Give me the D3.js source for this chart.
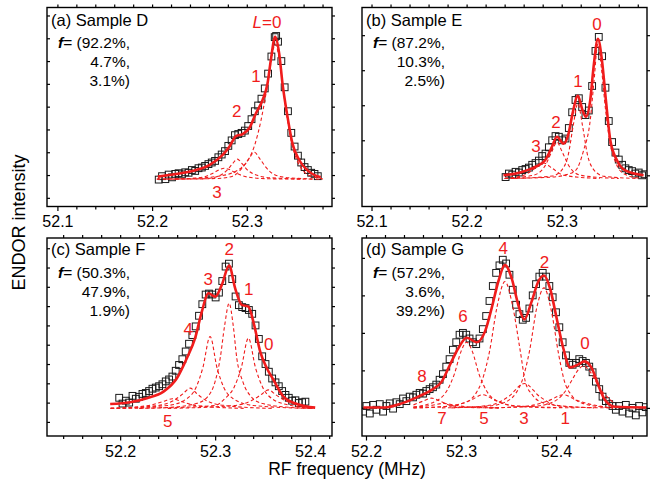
<!DOCTYPE html>
<html>
<head>
<meta charset="utf-8">
<script src="https://cdn.jsdelivr.net/npm/d3@7"></script>
<style>
body { margin: 0; background: #fff; }
svg { display: block; font-family: "Liberation Sans", Arial, Helvetica, sans-serif; }
</style>
</head>
<body>
<svg id="chart" width="650" height="479"></svg>
<script>
// ---- data: [RF frequency (MHz), ENDOR intensity (arb.)] ----

// (a) Sample D
const dataD = [
    [52.207,-0.20],[52.2105,-0.05],[52.214,-0.18],[52.2175,0.02],[52.221,-0.10],[52.2245,0.05],
    [52.228,0.08],[52.2315,0.03],[52.235,0.12],[52.2385,0.10],[52.242,0.22],[52.2455,0.18],
    [52.249,0.30],[52.2525,0.33],[52.256,0.40],[52.2595,0.48],[52.263,0.55],[52.2665,0.62],
    [52.270,0.78],[52.2735,0.90],[52.277,1.05],[52.2805,1.28],[52.284,1.52],[52.2875,1.75],
    [52.291,1.80],[52.2945,1.85],[52.298,1.95],[52.3015,2.15],[52.305,2.45],[52.3085,2.80],
    [52.312,3.05],[52.3155,3.35],[52.319,3.80],[52.3225,4.45],[52.326,5.20],[52.3295,6.05],
    [52.331,6.10],[52.333,5.85],[52.3365,5.00],[52.340,3.85],[52.3435,2.80],[52.347,1.85],
    [52.3505,1.25],[52.354,0.85],[52.3575,0.55],[52.361,0.35],[52.3645,0.22],[52.368,0.10],
    [52.3715,0.05],[52.375,-0.05]
];
const fitD = [
    [52.206,-0.07],[52.218,0.0],[52.229,0.07],[52.2465,0.22],[52.2605,0.44],[52.2745,0.88],
    [52.2816,1.24],[52.2886,1.71],[52.2956,1.80],[52.3026,2.05],[52.3097,2.71],[52.3167,3.29],
    [52.3219,4.02],[52.3254,5.04],[52.330,6.07],[52.3342,5.34],[52.3377,4.02],[52.343,2.56],
    [52.3482,1.39],[52.3553,0.66],[52.3658,0.15],[52.3781,-0.10]
];
const compsD = [
    [[52.205,-0.18],[52.24,-0.15],[52.27,-0.05],[52.285,0.1],[52.295,0.35],[52.302,0.7],[52.309,1.4],
     [52.315,2.4],[52.320,3.5],[52.325,4.8],[52.330,5.75],[52.335,4.9],[52.340,3.3],[52.345,1.9],
     [52.350,1.0],[52.356,0.4],[52.363,0.05],[52.372,-0.1],[52.38,-0.16]],
    [[52.225,-0.18],[52.27,-0.15],[52.285,-0.05],[52.295,0.3],[52.302,0.7],[52.308,1.0],[52.314,0.7],
     [52.321,0.3],[52.330,0.0],[52.345,-0.12],[52.38,-0.18]],
    [[52.215,-0.18],[52.255,-0.16],[52.27,-0.05],[52.28,0.25],[52.285,0.5],[52.290,0.7],[52.295,0.5],
     [52.300,0.25],[52.31,0.0],[52.325,-0.12],[52.37,-0.18]],
    [[52.205,-0.18],[52.235,-0.16],[52.255,-0.08],[52.265,0.1],[52.272,0.25],[52.276,0.3],[52.281,0.25],
     [52.288,0.1],[52.30,-0.08],[52.32,-0.16],[52.36,-0.18]]
];
const labelsD = [["L=0",52.3213,6.43],["1",52.3097,4.09],["2",52.2893,2.54],["3",52.2685,-1.01]];
const fracD = ["(92.2%,", "4.7%,", "3.1%)"];

// (b) Sample E
const dataE = [
    [52.241,-0.05],[52.2445,0.05],[52.248,0.02],[52.2515,0.10],[52.255,0.08],[52.2585,0.15],
    [52.262,0.18],[52.2655,0.22],[52.269,0.30],[52.2725,0.35],[52.276,0.42],[52.2795,0.55],
    [52.283,0.62],[52.2865,0.80],[52.290,1.00],[52.2935,1.12],[52.297,1.10],[52.3005,1.00],
    [52.304,1.05],[52.3075,1.35],[52.311,1.80],[52.3145,2.15],[52.318,2.20],[52.3215,1.95],
    [52.325,1.72],[52.3285,1.85],[52.332,2.55],[52.3355,3.55],[52.339,3.95],[52.3425,3.40],
    [52.346,2.50],[52.3495,1.55],[52.353,0.95],[52.3565,0.65],[52.360,0.45],[52.3635,0.30],
    [52.367,0.20],[52.3705,0.15],[52.374,0.12],[52.3775,0.05],[52.381,0.08],[52.3845,0.00],
    [52.387,0.03]
];
const fitE = [
    [52.2388,0.0],[52.2581,0.095],[52.2721,0.24],[52.2826,0.43],[52.2897,0.81],[52.295,1.10],
    [52.3019,0.90],[52.3072,1.19],[52.3114,1.76],[52.317,2.27],[52.3219,1.86],[52.3254,1.67],
    [52.330,2.14],[52.3335,3.09],[52.3381,3.90],[52.3423,3.29],[52.3465,2.14],[52.3511,1.0],
    [52.3581,0.43],[52.3668,0.14],[52.3861,0.0]
];
const compsE = [
    [[52.24,-0.09],[52.29,-0.05],[52.305,0.02],[52.3147,0.14],[52.323,0.71],[52.330,1.57],[52.334,2.7],
     [52.338,3.75],[52.342,3.0],[52.346,1.9],[52.351,0.9],[52.357,0.35],[52.365,0.05],[52.381,-0.08]],
    [[52.25,-0.09],[52.29,-0.02],[52.30,0.15],[52.307,0.6],[52.312,1.4],[52.317,2.05],[52.322,1.4],
     [52.327,0.6],[52.334,0.15],[52.345,-0.03],[52.38,-0.09]],
    [[52.24,-0.09],[52.27,0.0],[52.282,0.25],[52.29,0.7],[52.295,0.95],[52.300,0.7],[52.308,0.25],
     [52.32,0.0],[52.36,-0.09]],
    [[52.24,-0.09],[52.26,0.0],[52.272,0.2],[52.281,0.35],[52.29,0.2],[52.302,0.0],[52.34,-0.09]]
];
const labelsE = [["0",52.3371,4.14],["1",52.3171,2.51],["2",52.294,1.34],["3",52.273,0.666]];
const fracE = ["(87.2%,", "10.3%,", "2.5%)"];

// (c) Sample F
const dataF = [
    [52.199,0.25],[52.2025,-0.05],[52.206,0.10],[52.2095,0.00],[52.213,0.35],[52.2165,0.20],
    [52.220,0.30],[52.2235,0.45],[52.227,0.50],[52.2305,0.60],[52.234,0.72],[52.2375,0.78],
    [52.241,0.85],[52.2445,0.95],[52.248,1.10],[52.2515,1.20],[52.255,1.35],[52.2585,1.65],
    [52.262,1.95],[52.2655,2.25],[52.269,2.65],[52.2725,3.05],[52.276,3.50],[52.2795,3.95],
    [52.283,4.50],[52.2865,5.10],[52.290,5.60],[52.2935,5.65],[52.297,5.60],[52.3005,5.45],
    [52.304,5.70],[52.3075,6.30],[52.311,7.05],[52.3145,7.20],[52.318,6.40],[52.3215,5.50],
    [52.325,5.05],[52.3285,4.95],[52.332,4.90],[52.3355,4.80],[52.339,4.60],[52.3425,4.00],
    [52.346,3.30],[52.3495,2.40],[52.353,2.00],[52.3565,1.60],[52.360,1.25],[52.3635,1.05],
    [52.367,0.85],[52.3705,0.60],[52.374,0.40],[52.3775,0.25],[52.381,0.10],[52.3845,0.12],
    [52.388,-0.02],[52.3915,0.02],[52.395,0.05]
];
const fitF = [
    [52.1895,-0.07],[52.2105,0.02],[52.2281,0.23],[52.2456,0.57],[52.2597,1.26],[52.2702,2.30],
    [52.2789,3.34],[52.286,4.72],[52.293,5.67],[52.300,5.49],[52.307,6.10],[52.3147,7.10],
    [52.321,5.93],[52.3281,5.06],[52.335,4.97],[52.341,4.03],[52.3474,2.64],[52.3544,1.78],
    [52.3614,1.18],[52.3719,0.31],[52.386,-0.07],[52.4053,-0.26]
];
const compsF = [
    [[52.19,-0.3],[52.25,-0.25],[52.28,-0.05],[52.292,0.3],[52.300,1.1],[52.3053,2.3],[52.310,4.0],
     [52.3147,5.15],[52.319,4.0],[52.3228,2.3],[52.329,1.1],[52.338,0.3],[52.35,-0.05],[52.38,-0.25],[52.405,-0.3]],
    [[52.19,-0.3],[52.25,-0.15],[52.27,0.2],[52.28,0.8],[52.287,1.8],[52.2947,3.42],[52.302,1.8],
     [52.309,0.8],[52.319,0.2],[52.34,-0.15],[52.40,-0.3]],
    [[52.22,-0.3],[52.30,-0.15],[52.31,0.2],[52.32,0.8],[52.3275,1.8],[52.335,3.34],[52.3425,1.8],
     [52.35,0.8],[52.36,0.2],[52.38,-0.15],[52.405,-0.3]],
    [[52.19,-0.3],[52.24,-0.15],[52.256,0.1],[52.266,0.45],[52.2737,0.75],[52.281,0.45],[52.291,0.1],
     [52.31,-0.15],[52.36,-0.3]],
    [[52.25,-0.3],[52.32,-0.15],[52.338,0.1],[52.348,0.4],[52.3561,0.66],[52.364,0.4],[52.374,0.1],
     [52.39,-0.15],[52.405,-0.3]],
    [[52.19,-0.3],[52.23,-0.15],[52.245,0.05],[52.255,0.2],[52.265,0.05],[52.28,-0.15],[52.33,-0.3]]
];
const labelsF = [["2",52.3149,7.65],["3",52.2928,6.10],["1",52.3354,5.58],["4",52.2717,3.51],
                 ["0",52.3565,2.73],["5",52.2501,-1.24]];
const fracF = ["(50.3%,", "47.9%,", "1.9%)"];

// (d) Sample G
const dataG = [
    [52.197,-0.10],[52.2005,0.05],[52.204,-0.15],[52.2075,0.08],[52.211,-0.05],[52.2145,0.10],
    [52.218,-0.10],[52.2215,0.05],[52.225,0.12],[52.2285,-0.02],[52.232,0.15],[52.2355,0.10],
    [52.239,0.25],[52.2425,0.18],[52.246,0.30],[52.2495,0.28],[52.253,0.35],[52.2565,0.40],
    [52.260,0.38],[52.2635,0.45],[52.267,0.50],[52.2705,0.55],[52.274,0.62],[52.2775,0.75],
    [52.281,0.90],[52.2845,1.10],[52.288,1.30],[52.2915,1.55],[52.295,1.75],[52.2985,1.95],
    [52.302,2.00],[52.3055,1.95],[52.309,1.85],[52.3125,1.75],[52.316,1.70],[52.3195,1.85],
    [52.323,2.10],[52.3265,2.45],[52.330,2.85],[52.3335,3.25],[52.337,3.60],[52.3405,3.80],
    [52.344,3.95],[52.3475,3.85],[52.351,3.55],[52.3545,3.15],[52.358,2.75],[52.3615,2.50],
    [52.365,2.35],[52.3685,2.40],[52.372,2.65],[52.3755,3.00],[52.379,3.30],[52.3825,3.50],
    [52.386,3.60],[52.3895,3.50],[52.393,3.25],[52.3965,2.95],[52.400,2.55],[52.4035,2.15],
    [52.407,1.75],[52.4105,1.40],[52.414,1.20],[52.4175,1.15],[52.421,1.20],[52.4245,1.30],
    [52.428,1.25],[52.4315,1.20],[52.435,1.10],[52.4385,0.95],[52.442,0.70],[52.4455,0.50],
    [52.449,0.30],[52.4525,0.18],[52.456,0.10],[52.4595,0.05],[52.463,-0.05],[52.4665,0.05],
    [52.470,-0.10],[52.4735,0.08],[52.477,-0.15],[52.4805,0.00],[52.484,-0.20],[52.4875,0.05],
    [52.491,-0.12],[52.4945,0.02]
];
const fitG = [
    [52.1972,0.01],[52.22,0.01],[52.2376,0.12],[52.2551,0.30],[52.2691,0.48],[52.2797,0.70],
    [52.2884,1.15],[52.2972,1.59],[52.306,1.87],[52.3165,1.75],[52.3253,2.04],[52.3323,2.66],
    [52.3393,3.37],[52.3463,3.81],[52.3533,3.46],[52.3603,2.75],[52.3667,2.36],[52.3744,2.84],
    [52.3814,3.37],[52.3874,3.53],[52.3937,3.19],[52.4007,2.39],[52.4077,1.59],[52.4147,1.08],
    [52.4235,1.16],[52.4298,1.24],[52.4376,1.06],[52.4445,0.61],[52.4516,0.21],[52.4621,0.03],
    [52.4955,0.01]
];
const compsG = [
    [[52.25,0],[52.28,0.03],[52.305,0.15],[52.316,0.4],[52.3218,0.7],[52.330,1.5],[52.338,2.7],
     [52.3463,3.37],[52.3545,2.7],[52.3625,1.5],[52.3677,0.7],[52.375,0.35],[52.388,0.12],[52.42,0.02],[52.46,0]],
    [[52.28,0],[52.33,0.05],[52.350,0.2],[52.358,0.4],[52.364,0.7],[52.372,1.5],[52.380,2.7],
     [52.3874,3.2],[52.395,2.6],[52.403,1.4],[52.409,0.7],[52.416,0.35],[52.428,0.12],[52.46,0]],
    [[52.25,0.02],[52.275,0.2],[52.285,0.45],[52.293,0.9],[52.300,1.5],[52.306,1.75],[52.312,1.5],
     [52.319,0.9],[52.327,0.45],[52.337,0.2],[52.36,0.05],[52.42,0]],
    [[52.33,0],[52.38,0.05],[52.400,0.2],[52.410,0.45],[52.417,0.75],[52.423,1.0],[52.4287,1.12],
     [52.435,1.0],[52.441,0.75],[52.448,0.45],[52.458,0.2],[52.46,0.15]],
    [[52.25,0.08],[52.26,0.18],[52.269,0.26],[52.278,0.18],[52.29,0.06],[52.31,0.01],[52.34,0]],
    [[52.25,0.02],[52.27,0.07],[52.282,0.12],[52.294,0.07],[52.31,0.02],[52.34,0]],
    [[52.25,0],[52.29,0.05],[52.31,0.2],[52.323,0.35],[52.336,0.2],[52.355,0.05],[52.40,0]],
    [[52.29,0],[52.33,0.07],[52.350,0.3],[52.3667,0.65],[52.383,0.3],[52.40,0.07],[52.44,0]],
    [[52.33,0],[52.37,0.05],[52.393,0.2],[52.4077,0.35],[52.422,0.2],[52.445,0.05],[52.46,0]]
];
const labelsG = [["4",52.3445,4.10],["2",52.3879,3.73],["6",52.3021,2.30],["0",52.4305,1.57],
                 ["8",52.259,0.70],["7",52.280,-0.435],["5",52.3242,-0.435],["3",52.3663,-0.435],
                 ["1",52.4098,-0.435]];
const fracG = ["(57.2%,", "3.6%,", "39.2%)"];

// axis ranges and ticks
const xDomainD = [52.089, 52.390], yDomainD = [-1.38, 7.35];
const xDomainE = [52.090, 52.3897], yDomainE = [-0.89, 4.79];
const xDomainF = [52.123, 52.423], yDomainF = [-1.73, 8.53];
const xDomainG = [52.1958, 52.4958], yDomainG = [-0.75, 4.53];
const xTicksTop = [52.1, 52.2, 52.3];
const xTicksBottom = [52.2, 52.3, 52.4];
const yTicksD = [-1, 0, 1, 2, 3, 4, 5, 6, 7];
const yTicksE = [0, 1, 2, 3, 4];
const yTicksF = [-1, 0, 1, 2, 3, 4, 5, 6, 7, 8];
const yTicksG = [0, 1, 2, 3, 4];

// ---- layout ----
const RED = '#f01c1c';
const svg = d3.select('#chart');

const panels = [
    { title: '(a) Sample D', x0: 47, x1: 332, y0: 7.5, y1: 206.5, xd: xDomainD, yd: yDomainD,
      xt: xTicksTop, yt: yTicksD, data: dataD, fit: fitD, comps: compsD, labels: labelsD, frac: fracD },
    { title: '(b) Sample E', x0: 362, x1: 647, y0: 7.5, y1: 206.5, xd: xDomainE, yd: yDomainE,
      xt: xTicksTop, yt: yTicksE, data: dataE, fit: fitE, comps: compsE, labels: labelsE, frac: fracE },
    { title: '(c) Sample F', x0: 47, x1: 332, y0: 238, y1: 436, xd: xDomainF, yd: yDomainF,
      xt: xTicksBottom, yt: yTicksF, data: dataF, fit: fitF, comps: compsF, labels: labelsF, frac: fracF },
    { title: '(d) Sample G', x0: 362, x1: 647, y0: 238, y1: 436, xd: xDomainG, yd: yDomainG,
      xt: xTicksBottom, yt: yTicksG, data: dataG, fit: fitG, comps: compsG, labels: labelsG, frac: fracG }
];

panels.forEach(drawPanel);

function drawPanel(p) {
    const x = d3.scaleLinear().domain(p.xd).range([p.x0, p.x1]);
    const y = d3.scaleLinear().domain(p.yd).range([p.y1, p.y0]);
    const g = svg.append('g');
    const top = p.y0 < 100;

    const clipId = 'clip-' + p.title.charAt(1);
    g.append('clipPath').attr('id', clipId)
        .append('rect')
        .attr('x', p.x0).attr('y', p.y0)
        .attr('width', p.x1 - p.x0).attr('height', p.y1 - p.y0);

    // minor ticks every 0.02 MHz
    const minor = d3.range(Math.ceil(p.xd[0] / 0.02 - 1e-6) * 0.02, p.xd[1], 0.02)
        .filter(v => !p.xt.some(t => Math.abs(t - v) < 1e-6));

    const styleAxis = sel => {
        sel.select('.domain').remove();
        sel.selectAll('line').attr('stroke', '#000').attr('stroke-width', 1.2);
    };

    // bottom (outward)
    g.append('g').attr('transform', `translate(0,${p.y1})`)
        .call(d3.axisBottom(x).tickValues(p.xt).tickSize(4.5).tickPadding(5)
            .tickFormat(d3.format('.1f')))
        .call(styleAxis)
        .call(s => s.selectAll('text')
            .attr('font-size', 16).attr('font-family', '"Liberation Sans", Arial, sans-serif')
            .attr('fill', '#000'));
    g.append('g').attr('transform', `translate(0,${p.y1})`)
        .call(d3.axisBottom(x).tickValues(minor).tickSize(3).tickFormat(''))
        .call(styleAxis);
    // top (outward)
    g.append('g').attr('transform', `translate(0,${p.y0})`)
        .call(d3.axisTop(x).tickValues(p.xt.concat(minor)).tickSize(3).tickFormat(''))
        .call(styleAxis);
    // left (inward) and right (outward)
    g.append('g').attr('transform', `translate(${p.x0},0)`)
        .call(d3.axisRight(y).tickValues(p.yt).tickSize(3).tickFormat(''))
        .call(styleAxis);
    g.append('g').attr('transform', `translate(${p.x1},0)`)
        .call(d3.axisRight(y).tickValues(p.yt).tickSize(3).tickFormat(''))
        .call(styleAxis);

    const plot = g.append('g').attr('clip-path', `url(#${clipId})`);

    // measured points: open squares
    const s = 6.8;
    plot.append('g').selectAll('rect')
        .data(p.data)
        .join('rect')
        .attr('x', d => x(d[0]) - s / 2)
        .attr('y', d => y(d[1]) - s / 2)
        .attr('width', s).attr('height', s)
        .attr('fill', 'none')
        .attr('stroke', '#1a1a1a')
        .attr('stroke-width', 1);

    const line = d3.line()
        .x(d => x(d[0]))
        .y(d => y(d[1]))
        .curve(d3.curveMonotoneX);

    // individual L components, dashed
    plot.append('g').selectAll('path')
        .data(p.comps)
        .join('path')
        .attr('d', line)
        .attr('fill', 'none')
        .attr('stroke', RED)
        .attr('stroke-width', 1.1)
        .attr('stroke-dasharray', '3.5,2.5');

    // total fit
    plot.append('path')
        .datum(p.fit)
        .attr('d', line)
        .attr('fill', 'none')
        .attr('stroke', RED)
        .attr('stroke-width', 2.6)
        .attr('stroke-linejoin', 'round');

    // frame
    g.append('rect')
        .attr('x', p.x0).attr('y', p.y0)
        .attr('width', p.x1 - p.x0).attr('height', p.y1 - p.y0)
        .attr('fill', 'none')
        .attr('stroke', '#000')
        .attr('stroke-width', 1.4);

    // L labels
    p.labels.forEach(([txt, fx, fy]) => {
        const t = g.append('text')
            .attr('x', x(fx)).attr('y', y(fy))
            .attr('text-anchor', 'middle')
            .attr('font-size', 17)
            .attr('fill', RED);
        if (txt.startsWith('L=')) {
            t.append('tspan').attr('font-style', 'italic').text('L');
            t.append('tspan').text(txt.slice(1));
        } else {
            t.text(txt);
        }
    });

    // sample title and fractions
    g.append('text')
        .attr('x', p.x0 + 4).attr('y', p.y0 + (top ? 18.5 : 17))
        .attr('font-size', 16.5)
        .text(p.title);

    const fx = p.x0 + 83;
    const base = p.y0 + (top ? 40 : 39.5);
    const t1 = g.append('text')
        .attr('x', fx).attr('y', base)
        .attr('text-anchor', 'end')
        .attr('font-size', 15.5);
    t1.append('tspan').attr('font-weight', 'bold').attr('font-style', 'italic').text('f');
    t1.append('tspan').text('= ' + p.frac[0]);
    p.frac.slice(1).forEach((line, i) => {
        g.append('text')
            .attr('x', fx).attr('y', base + 19.2 * (i + 1))
            .attr('text-anchor', 'end')
            .attr('font-size', 15.5)
            .text(line);
    });
}

// axis titles
svg.append('text')
    .attr('transform', 'translate(25,222.5) rotate(-90)')
    .attr('text-anchor', 'middle')
    .attr('font-size', 18)
    .text('ENDOR intensity');

svg.append('text')
    .attr('x', 347).attr('y', 474.5)
    .attr('text-anchor', 'middle')
    .attr('font-size', 17.5)
    .text('RF frequency (MHz)');
</script>
</body>
</html>
